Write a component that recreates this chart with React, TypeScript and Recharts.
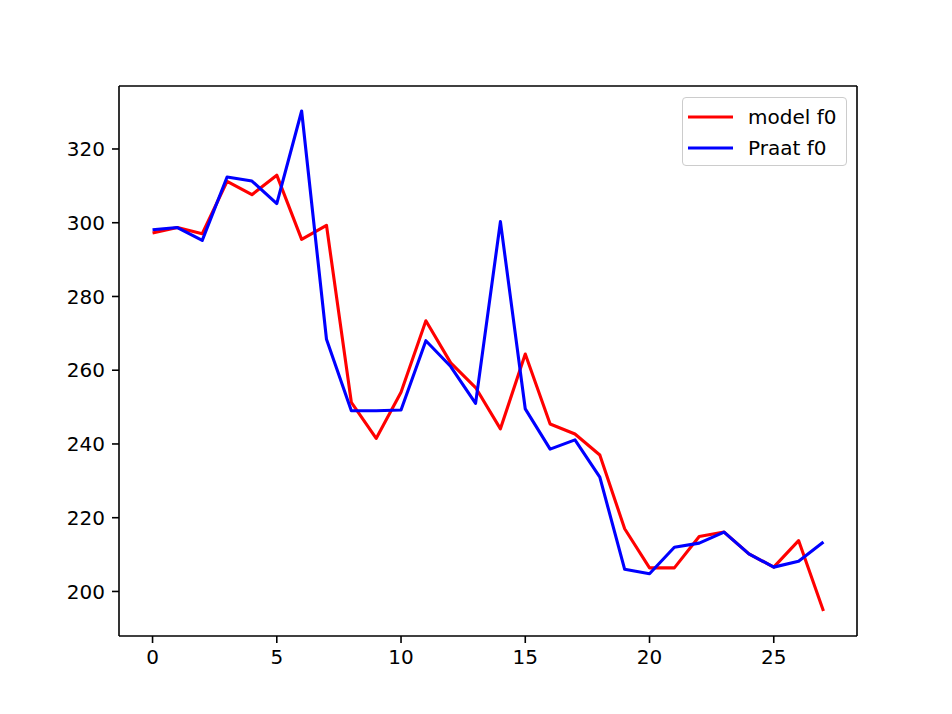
import { LineChart, Line, XAxis, YAxis, Legend } from 'recharts';

const FRAMES = [0, 1, 2, 3, 4, 5, 6, 7, 8, 9, 10, 11, 12, 13, 14, 15, 16, 17, 18, 19, 20, 21, 22, 23, 24, 25, 26, 27];

const MODEL_F0 = [
  297.2, 298.7, 297.0, 311.2, 307.6, 312.9, 295.5, 299.3, 251.3, 241.5,
  254.0, 273.4, 262.0, 255.3, 244.1, 264.4, 245.4, 242.7, 237.0, 217.0,
  206.4, 206.4, 214.9, 216.1, 210.2, 206.6, 213.8, 194.7,
];

const PRAAT_F0 = [
  298.1, 298.7, 295.2, 312.4, 311.3, 305.2, 330.3, 268.4, 249.0, 249.0,
  249.2, 268.0, 261.0, 251.0, 300.3, 249.5, 238.6, 241.1, 231.0, 206.0,
  204.8, 212.0, 213.1, 216.1, 210.2, 206.6, 208.2, 213.4,
];

const X_TICKS = [0, 5, 10, 15, 20, 25];
const Y_TICKS = [200, 220, 240, 260, 280, 300, 320];

const SERIES = [
  { key: 'model', name: 'model f0', color: '#ff0000' },
  { key: 'praat', name: 'Praat f0', color: '#0000ff' },
];

const data = FRAMES.map((f, i) => ({ frame: f, model: MODEL_F0[i], praat: PRAAT_F0[i] }));

// matplotlib-style 5% autoscale margins
const pad = (lo: number, hi: number) => [lo - (hi - lo) * 0.05, hi + (hi - lo) * 0.05];
const xDomain = pad(Math.min(...FRAMES), Math.max(...FRAMES));
const allY = [...MODEL_F0, ...PRAAT_F0];
const yDomain = pad(Math.min(...allY), Math.max(...allY));

const FONT = '"DejaVu Sans", sans-serif';
const SPINE = { stroke: '#000', strokeWidth: 1.6 };
const TICK_STYLE = { fill: '#000', fontSize: 20, fontFamily: FONT };

const LegendBox = () => (
  <div
    style={{
      boxSizing: 'border-box',
      width: 165,
      height: 69,
      border: '1.6px solid #cccccc',
      borderRadius: 4,
      background: 'rgba(255,255,255,0.8)',
      padding: '4px 0 0 5px',
      fontFamily: FONT,
      fontSize: 20,
      color: '#000',
    }}
  >
    {SERIES.map((s) => (
      <div key={s.key} style={{ display: 'flex', alignItems: 'center', height: 30.6 }}>
        <svg width={45} height={10} style={{ marginRight: 15 }}>
          <line x1={0} y1={5} x2={45} y2={5} stroke={s.color} strokeWidth={3.1} />
        </svg>
        <span>{s.name}</span>
      </div>
    ))}
  </div>
);

const App = () => {
  return (
    <div style={{ position: 'absolute', left: 0, top: 0, background: '#fff' }}>
      <LineChart
        width={952}
        height={714}
        data={data}
        margin={{ top: 85, right: 94, bottom: 77, left: 118 }}
      >
        <XAxis
          dataKey="frame"
          type="number"
          domain={xDomain}
          ticks={X_TICKS}
          allowDataOverflow
          height={1}
          axisLine={SPINE}
          tickLine={SPINE}
          tickSize={7}
          tickMargin={7}
          tick={TICK_STYLE}
          interval={0}
        />
        <XAxis
          xAxisId="top"
          orientation="top"
          type="number"
          domain={xDomain}
          height={1}
          axisLine={SPINE}
          tick={false}
          tickLine={false}
        />
        <YAxis
          type="number"
          domain={yDomain}
          ticks={Y_TICKS}
          allowDataOverflow
          width={1}
          axisLine={SPINE}
          tickLine={SPINE}
          tickSize={7}
          tickMargin={7}
          tick={TICK_STYLE}
          interval={0}
        />
        <YAxis
          yAxisId="right"
          orientation="right"
          type="number"
          domain={yDomain}
          width={1}
          axisLine={SPINE}
          tick={false}
          tickLine={false}
        />
        <Legend
          layout="horizontal"
          verticalAlign="middle"
          align="center"
          content={() => <LegendBox />}
          wrapperStyle={{ top: 97, left: 682, width: 165, height: 69 }}
        />
        {SERIES.map((s) => (
          <Line
            key={s.key}
            dataKey={s.key}
            name={s.name}
            type="linear"
            stroke={s.color}
            strokeWidth={3.1}
            strokeLinejoin="round"
            dot={false}
            activeDot={false}
            isAnimationActive={false}
          />
        ))}
      </LineChart>
    </div>
  );
};

export default App;
